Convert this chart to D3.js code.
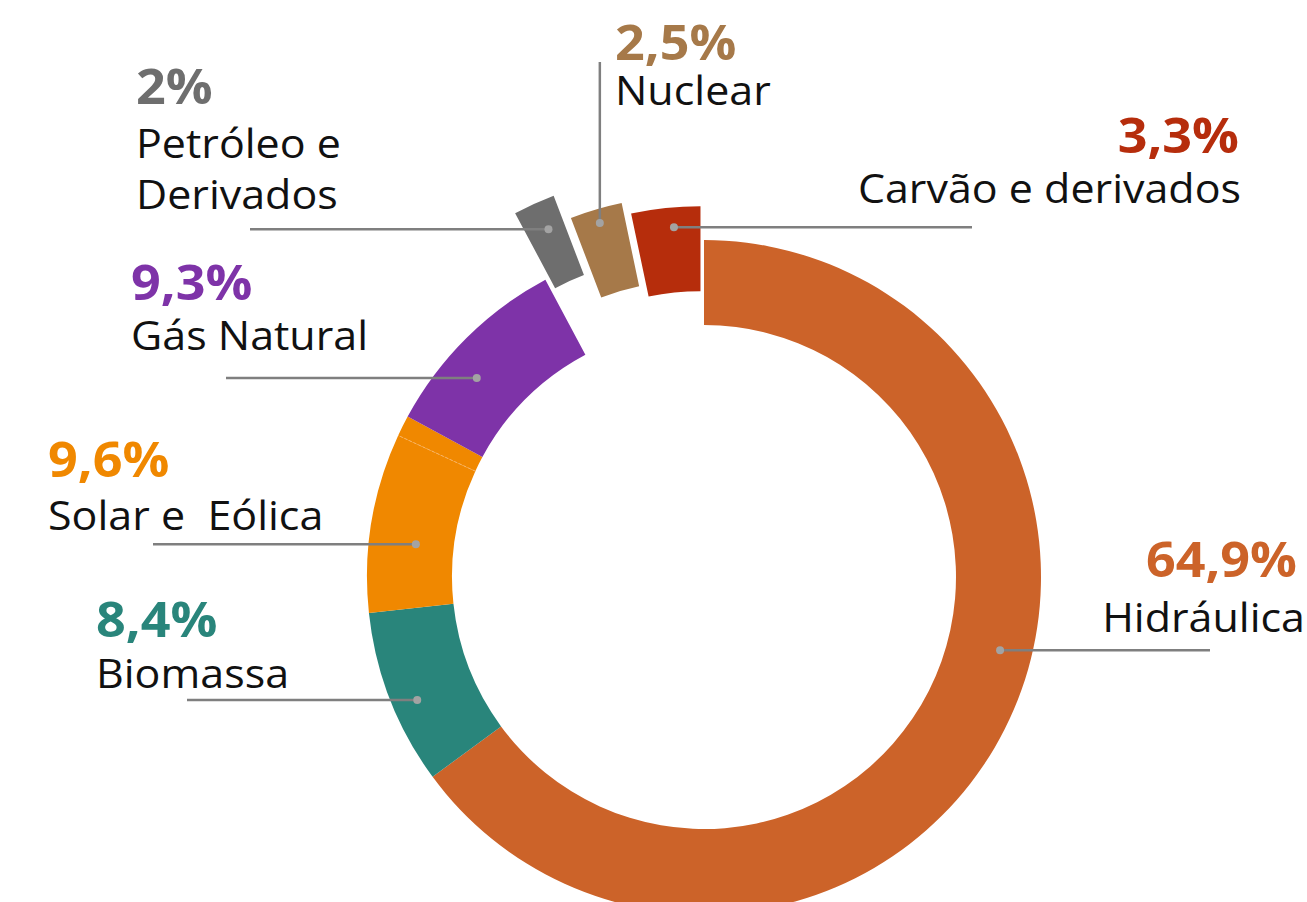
<!DOCTYPE html>
<html>
<head>
<meta charset="utf-8">
<script src="https://cdn.jsdelivr.net/npm/d3@7"></script>
<style>
  body { margin: 0; background: #fff; }
  svg text { font-family: "Open Sans", sans-serif; white-space: pre; }
</style>
</head>
<body>
<script>
// matriz elétrica brasileira (%)
const fontes  = ["Hidráulica", "Biomassa", "Eólica", "Solar", "Gás Natural", "Petróleo", "Nuclear", "Carvão"];
const valores = [64.9, 8.4, 8.6, 1.0, 9.3, 2.0, 2.5, 3.3];
const cores   = ["#CC6329", "#29857B", "#F08800", "#F08800", "#7E33A8", "#6E6E6E", "#A67949", "#B62D0C"];
const grupos  = [0, 1, 2, 2, 3, 4, 5, 6];   // eólica + solar share one label
const rotulos = [["Hidráulica"], ["Biomassa"], ["Solar e  Eólica"], ["Gás Natural"],
                 ["Petróleo e", "Derivados"], ["Nuclear"], ["Carvão e derivados"]];

const explode = [0, 0, 0, 0, 0, 73, 46, 34];

// where each label sits (dot angle in degrees, clockwise from top)
const layout = [
  { dotA: 103.9, dotR: 305, lineX: 1210, x: 1297, nameX: 1305, anchor: "end",   pctY: 577, nameY: 632 },
  { dotA: 246.8, dotR: 312, lineX: 187,  x: 96,   anchor: "start", pctY: 637, nameY: 688 },
  { dotA: 276.5, dotR: 290, lineX: 153,  x: 48,   anchor: "start", pctY: 477, nameY: 530 },
  { dotA: 311.2, dotR: 302, lineX: 226,  x: 131,  anchor: "start", pctY: 300, nameY: 350 },
  { dotA: 336,   dotR: 308, lineX: 250,  x: 136,  anchor: "start", pctY: 104, nameY: 158 },
  { dotA: 343.6, dotR: 323, lineY: 62,   x: 615,  anchor: "start", pctY: 60,  nameY: 105 },
  { dotA: 355.2, dotR: 317, lineX: 972,  x: 1239, nameX: 1241, anchor: "end", pctY: 153, nameY: 203 }
];

const fmt = d3.formatLocale({ decimal: ",", thousands: ".", grouping: [3], currency: ["", ""] }).format(".1~f");

class DonutDrawer {
  constructor(width = 1307, height = 902) {
    this.width = width;
    this.height = height;
    this.cx = 704;
    this.cy = 577;
    this.outer = 337;
    this.inner = 252;

    this.slices = d3.pie().sort(null).value(d => d.value)(
      fontes.map((f, i) => ({ name: f, value: valores[i], color: cores[i], group: grupos[i], explode: explode[i] }))
    );
    this.arc = d3.arc().innerRadius(this.inner).outerRadius(this.outer);

    this.build();
  }

  build() {
    this.createSvg();
    this.addSlices();
    this.addSeam();
    this.addLabels();
  }

  createSvg() {
    this.svg = d3.select("body")
      .append("svg")
      .attr("width", this.width)
      .attr("height", this.height);
    this.g = this.svg.append("g")
      .attr("transform", `translate(${this.cx},${this.cy})`);
  }

  offset(d) {
    let mid = (d.startAngle + d.endAngle) / 2;
    return [Math.sin(mid) * d.data.explode, -Math.cos(mid) * d.data.explode];
  }

  addSlices() {
    this.g.selectAll(".slice")
      .data(this.slices)
      .enter().append("path")
      .attr("class", "slice")
      .attr("transform", d => "translate(" + this.offset(d) + ")")
      .attr("d", this.arc)
      .attr("fill", d => d.data.color);
  }

  // faint border between eólica and solar
  addSeam() {
    let d = this.slices[3];
    let a = d.startAngle;
    this.g.append("line")
      .attr("x1", Math.sin(a) * this.inner)
      .attr("y1", -Math.cos(a) * this.inner)
      .attr("x2", Math.sin(a) * this.outer)
      .attr("y2", -Math.cos(a) * this.outer)
      .attr("stroke", "#F8B466")
      .attr("stroke-width", 1)
      .attr("stroke-dasharray", "3,2");
  }

  addLabels() {
    let labels = layout.map((l, gi) => {
      let first = this.slices.find(s => s.data.group === gi);
      let total = d3.sum(this.slices.filter(s => s.data.group === gi), s => s.data.value);
      let off = this.offset(first);
      let a = l.dotA * Math.PI / 180;
      return Object.assign({}, l, {
        color: first.data.color,
        pct: fmt(total) + "%",
        lines: rotulos[gi],
        dx: this.cx + off[0] + Math.sin(a) * l.dotR,
        dy: this.cy + off[1] - Math.cos(a) * l.dotR
      });
    });

    let lab = this.svg.selectAll(".label")
      .data(labels)
      .enter().append("g")
      .attr("class", "label");

    lab.append("line")
      .attr("x1", d => d.dx)
      .attr("y1", d => d.dy)
      .attr("x2", d => d.lineY != null ? d.dx : d.lineX)
      .attr("y2", d => d.lineY != null ? d.lineY : d.dy)
      .attr("stroke", "#7F7F7F")
      .attr("stroke-width", 2.5);

    lab.append("circle")
      .attr("cx", d => d.dx)
      .attr("cy", d => d.dy)
      .attr("r", 4)
      .attr("fill", "#A3A3A3");

    // the source font runs a bit wider than Open Sans, so stretch horizontally
    lab.append("text")
      .attr("transform", d => `translate(${d.x},${d.pctY}) scale(1.085,1)`)
      .attr("text-anchor", d => d.anchor)
      .attr("font-size", 48)
      .attr("font-weight", 700)
      .attr("fill", d => d.color)
      .text(d => d.pct);

    lab.each(function(d) {
      let nx = d.nameX != null ? d.nameX : d.x;
      d.lines.forEach((s, i) => {
        d3.select(this).append("text")
          .attr("transform", `translate(${nx},${d.nameY + i * 51}) scale(1.075,1)`)
          .attr("text-anchor", d.anchor)
          .attr("font-size", 40)
          .attr("fill", "#111")
          .text(s);
      });
    });
  }
}

new DonutDrawer();
</script>
</body>
</html>
